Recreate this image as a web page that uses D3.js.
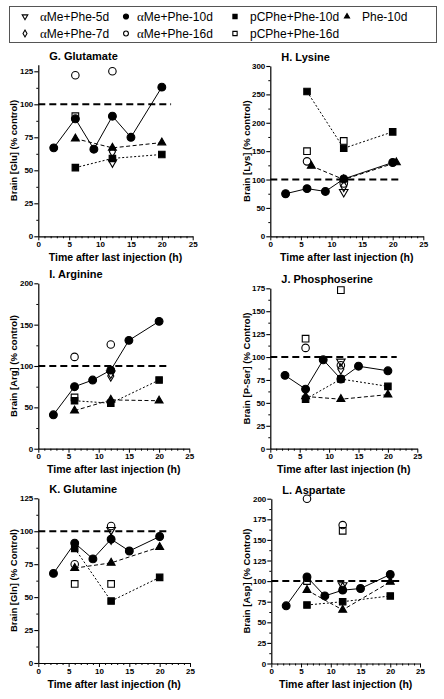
<!DOCTYPE html>
<html><head><meta charset="utf-8">
<script src="https://cdn.jsdelivr.net/npm/d3@7"></script>
<style>body{margin:0;background:#fff}svg{display:block}</style></head>
<body><svg id="c" width="444" height="699"></svg>
<script>
// ---------- data ----------
const panelTitles = ["G. Glutamate","H. Lysine","I. Arginine","J. Phosphoserine","K. Glutamine","L. Aspartate"];
const yTitles = ["Brain [Glu] (% control)","Brain [Lys] (% control)","Brain [Arg] (% control)","Brain [P-Ser] (% Control)","Brain [Gln] (% Control)","Brain [Asp] (% Control)"];
const yMax = [130,300,200,175,125,200];
const yTickMax = [125,300,200,175,125,200];
const yStep = [25,50,50,25,25,25];
const xTicks = [0,5,10,15,20,25];
const refValue = 100;
const refEnd = 21.5;

const seriesNames = ["αMe+Phe-5d","αMe+Phe-7d","αMe+Phe-10d","αMe+Phe-16d","pCPhe+Phe-10d","pCPhe+Phe-16d","Phe-10d"];

const aMe10dT = [2.5,6,9,12,15,20];
const aMe10d = [[67,89,66,91,75,113],[75,84,79,101,null,130],[41,75,83,95,131,154],[80,65,97,76,90,85],[68,91,79,94,85,96],[70,105,82,89,91,108]];
const pCPhe10dT = [6,12,20];
const pCPhe10d = [[52,59,62],[255,155,184],[58,55,83],[54,76,68],[87,47,65],[71,75,82]];
const phe10dT = [[6,12,20],[6.7,12,20.6],[6,12,20],[6,12,20],[6,12,20],[6,12,20]];
const phe10d = [[74,67,71],[124,100,130],[46,59,58],[57,54,59],[72,76,88],[89,65,99]];
const aMe16dT = [6,12];
const aMe16d = [[122,125],[132,93],[111,126],[110,91],[75,104],[200,168]];
const pCPhe16dT = [6,12];
const pCPhe16d = [[91,null],[150,168],[62,null],[120,173],[60,60],[100,161]];
const aMe5dT = [12];
const aMe5d = [[56],[78],[91],[95],[101],[95]];
const aMe7dT = [12];
const aMe7d = [[64],[88],[88],[87],[94],[92]];

// ---------- layout (pixel frames: left, x=25 px, y=0 px, y=max px) ----------
const frames = [
  [38.3,192.7,236.3,64.7],[270.3,423.3,236.3,66],
  [38.3,189.3,448.7,283.3],[270.3,417.3,448.7,288.3],
  [38.3,190,663,498.3],[271.3,420,663.5,498.7]
];
const ylabX = [14,247,14,247,14,247];

const svg = d3.select("#c");
const F = "'Liberation Sans', Arial, sans-serif";

const sym = {
  down:{type:d3.symbolTriangle,size:32,rot:180,fill:"none"},
  diamond:{type:d3.symbolDiamond,size:32,rot:0,fill:"none"},
  fcircle:{type:d3.symbolCircle,size:48,rot:0,fill:"#000"},
  ocircle:{type:d3.symbolCircle,size:44,rot:0,fill:"none"},
  fsquare:{type:d3.symbolSquare,size:42,rot:0,fill:"#000"},
  osquare:{type:d3.symbolSquare,size:44,rot:0,fill:"none"},
  ftri:{type:d3.symbolTriangle,size:27,rot:0,fill:"#000"}
};

function drawSym(g, s, x, y, scale){
  const k = scale||1;
  g.append("path")
    .attr("d", d3.symbol().type(s.type).size(s.size*k*k)())
    .attr("transform", `translate(${x},${y}) rotate(${s.rot})`)
    .attr("fill", s.fill).attr("stroke","#000").attr("stroke-width",1.1);
}

panelTitles.forEach((title,i)=>{
  const [xl,xr,yb,yt] = frames[i];
  const x = d3.scaleLinear().domain([0,25]).range([xl,xr]);
  const y = d3.scaleLinear().domain([0,yMax[i]]).range([yb,yt]);
  const g = svg.append("g");

  // axes
  const yTicksMajor = d3.range(0,yTickMax[i]+0.1,yStep[i]);
  const yTicksMinor = d3.range(yStep[i]/2,yMax[i],yStep[i]).filter(v=>v<=yMax[i]);
  const ya = g.append("g").attr("transform",`translate(${xl},0)`)
    .call(d3.axisLeft(y).tickValues(yTicksMajor).tickSize(4).tickSizeOuter(0).tickPadding(1));
  ya.selectAll("text").attr("font-family",F).attr("font-size",8).attr("font-weight","bold").attr("fill","#000");
  ya.select(".domain").attr("stroke-width",1.2);
  ya.selectAll(".tick line").attr("stroke-width",1.1);
  g.append("g").attr("transform",`translate(${xl},0)`)
    .call(d3.axisLeft(y).tickValues(yTicksMinor).tickSize(2).tickFormat(""))
    .call(s=>s.select(".domain").remove());

  const xa = g.append("g").attr("transform",`translate(0,${yb})`)
    .call(d3.axisBottom(x).tickValues(xTicks).tickSize(4).tickSizeOuter(0).tickPadding(1));
  xa.selectAll("text").attr("font-family",F).attr("font-size",8).attr("font-weight","bold").attr("fill","#000");
  xa.select(".domain").attr("stroke-width",1.2);
  g.append("g").attr("transform",`translate(0,${yb})`)
    .call(d3.axisBottom(x).tickValues(d3.range(1,25).filter(v=>v%5)).tickSize(2).tickFormat(""))
    .call(s=>s.select(".domain").remove());

  // reference line
  g.append("line").attr("x1",x(0)).attr("x2",x(refEnd)).attr("y1",y(refValue)).attr("y2",y(refValue))
    .attr("stroke","#000").attr("stroke-width",2).attr("stroke-dasharray","7,4");

  // titles
  g.append("text").attr("x",xl+11).attr("y",yt-5).text(title)
    .attr("font-family",F).attr("font-size",11).attr("font-weight","bold");
  g.append("text").attr("x",(xl+xr)/2).attr("y",yb+24.5).attr("text-anchor","middle")
    .text("Time after last injection (h)")
    .attr("font-family",F).attr("font-size",10.5).attr("font-weight","bold");
  g.append("text").attr("transform",`translate(${ylabX[i]},${(yb+yt)/2}) rotate(-90)`)
    .attr("text-anchor","middle").attr("dy","0.35em").text(yTitles[i])
    .attr("font-family",F).attr("font-size",9.5).attr("font-weight","bold");

  // lines
  const pts = (ts,vs)=>ts.map((t,j)=>[t,vs[j]]).filter(d=>d[1]!=null);
  const line = d3.line().x(d=>x(d[0])).y(d=>y(d[1]));
  g.append("path").attr("d",line(pts(pCPhe10dT,pCPhe10d[i]))).attr("fill","none")
    .attr("stroke","#000").attr("stroke-width",1).attr("stroke-dasharray","2,2");
  g.append("path").attr("d",line(pts(phe10dT[i],phe10d[i]))).attr("fill","none")
    .attr("stroke","#000").attr("stroke-width",1).attr("stroke-dasharray","4,2.5");
  g.append("path").attr("d",line(pts(aMe10dT,aMe10d[i]))).attr("fill","none")
    .attr("stroke","#000").attr("stroke-width",1);

  // markers
  const mark = (ts,vs,s)=>pts(ts,vs).forEach(d=>drawSym(g,s,x(d[0]),y(d[1])));
  mark(pCPhe10dT,pCPhe10d[i],sym.fsquare);
  mark(phe10dT[i],phe10d[i],sym.ftri);
  mark(aMe10dT,aMe10d[i],sym.fcircle);
  mark(pCPhe16dT,pCPhe16d[i],sym.osquare);
  mark(aMe16dT,aMe16d[i],sym.ocircle);
  mark(aMe7dT,aMe7d[i],sym.diamond);
  mark(aMe5dT,aMe5d[i],sym.down);
});

// ---------- legend ----------
const lg = svg.append("g");
lg.append("rect").attr("x",9.5).attr("y",6.5).attr("width",427).attr("height",36)
  .attr("fill","none").attr("stroke","#555").attr("stroke-width",1);
const legendSyms = [sym.down,sym.diamond,sym.fcircle,sym.ocircle,sym.fsquare,sym.osquare,sym.ftri];
const legCol = [[25,40],[25,40],[126,137],[126,137],[235,250],[235,250],[347,362]];
const legRow = [17,34,17,34,17,34,17];
seriesNames.forEach((n,j)=>{
  drawSym(lg,legendSyms[j],legCol[j][0],legRow[j]-0.5,0.65);
  const t = lg.append("text").attr("x",legCol[j][1]).attr("y",legRow[j]).attr("dy","0.35em")
    .attr("font-family",F).attr("font-size",12);
  if(n.startsWith("α")){
    t.append("tspan").attr("font-family","'Liberation Serif','Times New Roman',serif").attr("font-size",13).text("α");
    t.append("tspan").text(n.slice(1));
  } else t.text(n);
});
</script></body></html>
